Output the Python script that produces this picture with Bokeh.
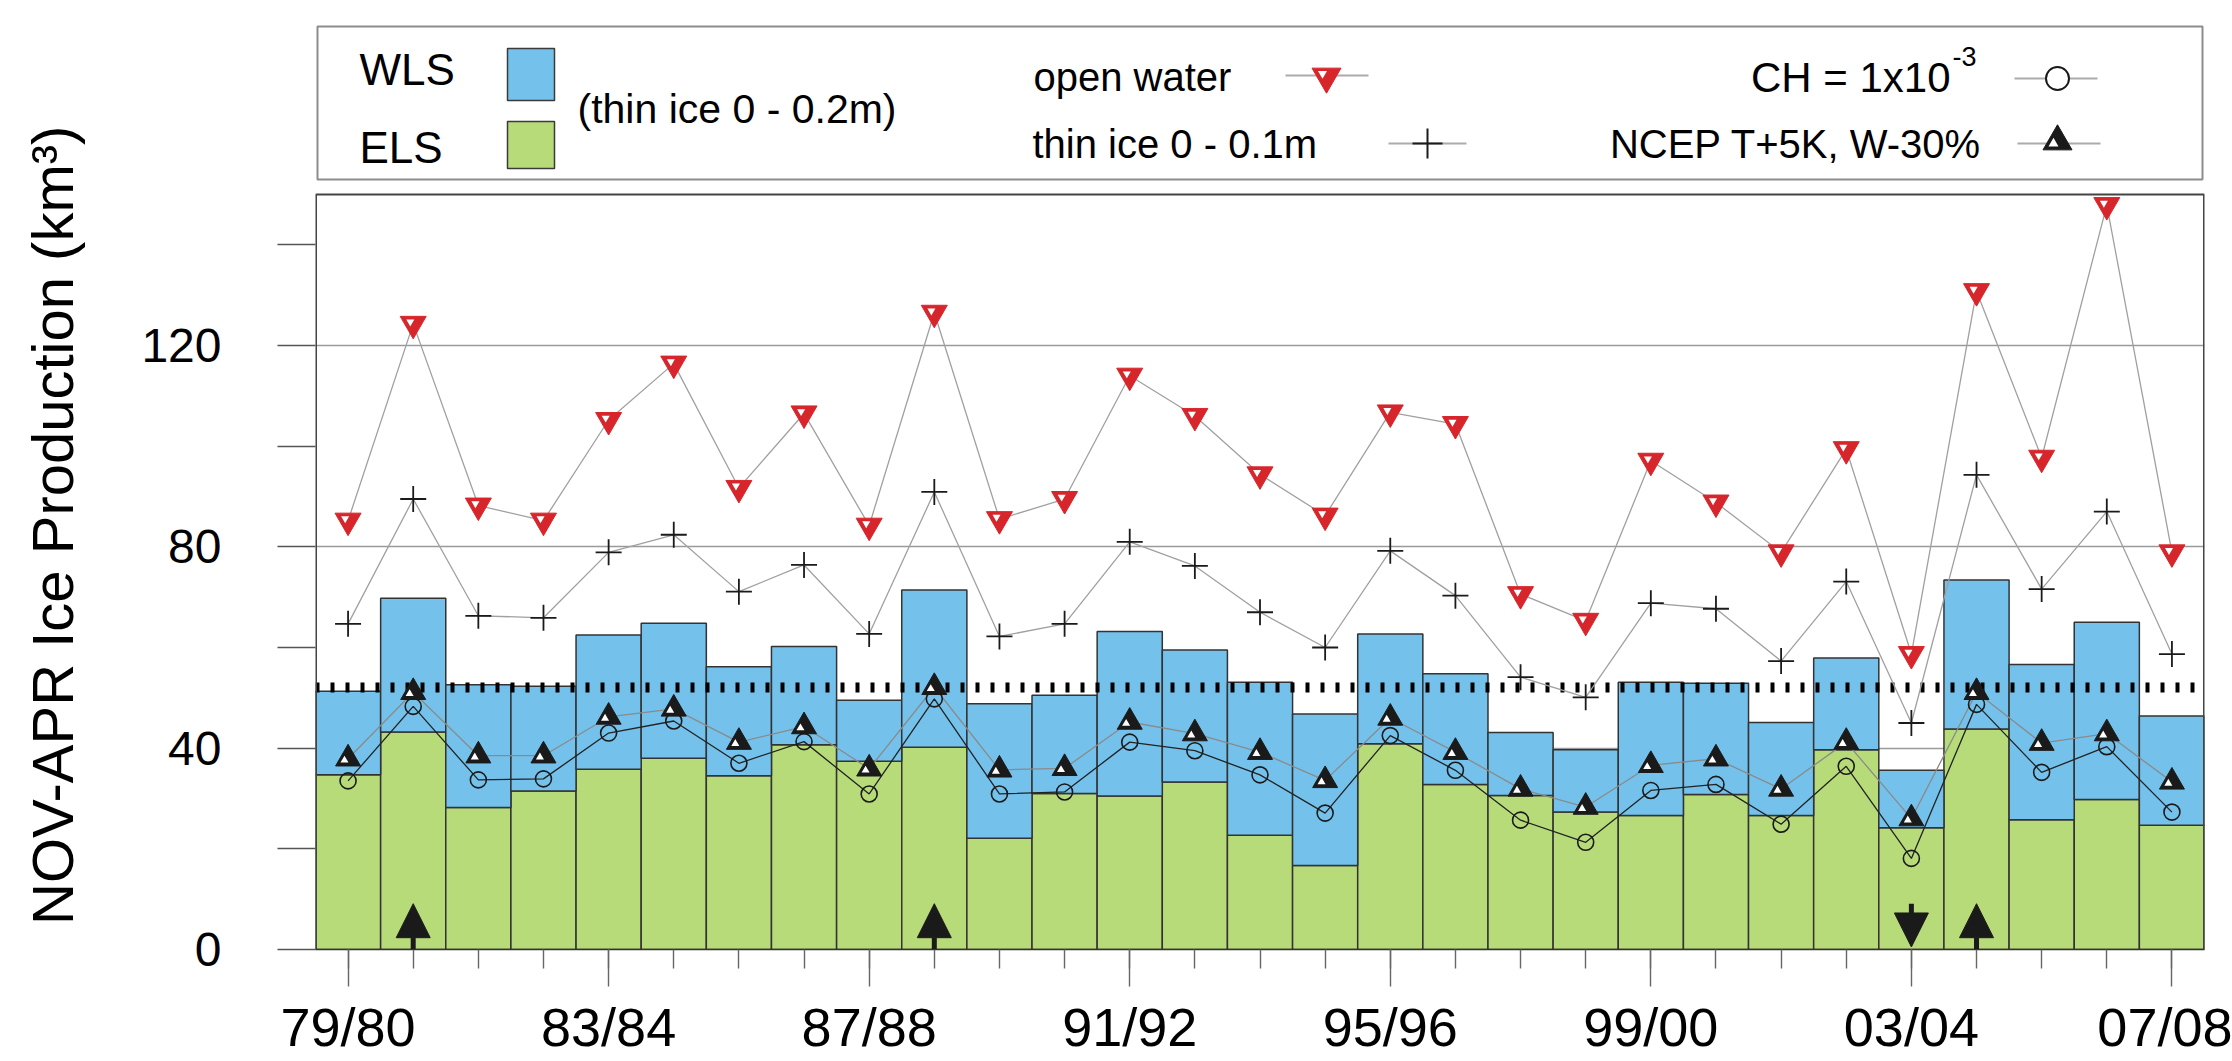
from bokeh.plotting import figure
from bokeh.models import (ColumnDataSource, Range1d, FixedTicker, Arrow, NormalHead)
from bokeh.transform import dodge
from bokeh.core.properties import value
from bokeh.embed import file_html
from bokeh.resources import INLINE

# ---------------- data ----------------
seasons = ["79/80", "80/81", "81/82", "82/83", "83/84", "84/85", "85/86", "86/87",
           "87/88", "88/89", "89/90", "90/91", "91/92", "92/93", "93/94", "94/95",
           "95/96", "96/97", "97/98", "98/99", "99/00", "00/01", "01/02", "02/03",
           "03/04", "04/05", "05/06", "06/07", "07/08"]
# ELS ice production (green, bottom of stack), km^3
els = [34.7, 43.2, 28.2, 31.5, 35.8, 38.0, 34.5, 40.7, 37.4, 40.2, 22.1, 31.0, 30.5,
       33.3, 22.7, 16.7, 40.9, 32.8, 30.6, 27.3, 26.6, 30.8, 26.6, 39.7, 24.2, 43.8,
       25.8, 29.8, 24.7]
# WLS ice production (blue, stacked on ELS), km^3
wls = [16.6, 26.6, 24.4, 20.8, 26.7, 26.8, 21.7, 19.5, 12.1, 31.2, 26.7, 19.5, 32.7,
       26.2, 30.4, 30.1, 21.8, 22.0, 12.5, 12.4, 26.5, 22.1, 18.5, 18.2, 11.4, 29.6,
       30.8, 35.2, 21.7]
open_water = [85.2, 124.3, 88.2, 85.2, 105.2, 116.4, 91.7, 106.5, 84.2, 126.5, 85.5,
              89.5, 114.0, 106.0, 94.4, 86.2, 106.7, 104.4, 70.6, 65.3, 97.1, 88.8,
              78.9, 99.4, 58.7, 130.8, 97.7, 147.9, 78.9]
thin_ice_01 = [64.7, 89.5, 66.3, 65.9, 78.9, 82.4, 71.1, 76.4, 62.7, 90.9, 62.2, 64.7,
               81.0, 76.2, 67.0, 60.0, 79.2, 70.3, 54.1, 50.1, 68.8, 67.7, 57.3, 73.1,
               45.0, 94.3, 71.6, 87.0, 58.7]
ch_1e3 = [33.5, 48.3, 33.7, 33.9, 43.0, 45.4, 37.0, 41.3, 30.9, 49.8, 30.9, 31.3, 41.2,
          39.5, 34.7, 27.1, 42.5, 35.6, 25.7, 21.3, 31.6, 32.8, 24.9, 36.4, 18.1, 48.7,
          35.2, 40.3, 27.3]
ncep_t5k = [37.9, 51.1, 38.5, 38.5, 46.2, 47.8, 41.2, 44.3, 35.9, 52.1, 35.7, 36.0,
            45.2, 42.9, 39.2, 33.6, 46.0, 39.2, 31.9, 28.3, 36.6, 37.9, 31.9, 41.2,
            26.0, 51.1, 41.0, 42.9, 33.3]
dotted_level = [52.1]
arrow_up_seasons = ["80/81", "88/89", "04/05"]
arrow_down_seasons = ["03/04"]
arrow_length = [9.1]
arrow_gap = [0.5]
y_max = 150
y_major_ticks = [0, 40, 80, 120]
y_minor_ticks = [20, 60, 100, 140]
y_grid_ticks = [40, 80, 120]
x_tick_labels = ["79/80", "83/84", "87/88", "91/92", "95/96", "99/00", "03/04", "07/08"]
y_title = "NOV-APR Ice Production (km³)"

# ---------------- styling / layout (page pixels) ----------------
FONT = "Liberation Sans"
BLUE = "#74C2EC"
GREEN = "#B8DB7A"
RED = "#D7262B"
INK = "#1a1a1a"
W, H = 2232, 1061
FRAME_L, FRAME_R = 315, 2204      # plotting box left/right
BOX_TOP, BOX_BOT = 194, 949       # plotting box top/bottom (y = y_max .. 0)
CANVAS_TOP = 20                   # frame extends up to hold the legend panel

PXX = (FRAME_R - FRAME_L) / float(len(seasons))
PXY = (BOX_BOT - BOX_TOP) / float(y_max)


def gx(px):
    """page x pixel -> data x"""
    return -0.5 + (px - FRAME_L) / PXX


def gy(py):
    """page y pixel -> data y"""
    return (BOX_BOT - py) / PXY


idx = list(range(len(seasons)))
src = ColumnDataSource(dict(x=idx, season=seasons, els=els, wls=wls,
                            open_water=open_water, thin_ice=thin_ice_01,
                            ch=ch_1e3, ncep=ncep_t5k))

p = figure(width=W, height=H, x_range=Range1d(-0.5, len(seasons) - 0.5),
           y_range=Range1d(0, gy(CANVAS_TOP)), output_backend="svg",
           toolbar_location=None, min_border_left=FRAME_L, min_border_right=W - FRAME_R,
           min_border_top=CANVAS_TOP, min_border_bottom=H - BOX_BOT)
p.outline_line_color = None
p.background_fill_color = "white"
p.border_fill_color = "white"

# grid
p.xgrid.visible = False
p.ygrid.ticker = FixedTicker(ticks=y_grid_ticks)
p.ygrid.grid_line_color = "#9a9a9a"
p.ygrid.grid_line_width = 1.5

# y axis
p.yaxis.ticker = FixedTicker(ticks=y_major_ticks, minor_ticks=y_minor_ticks)
p.yaxis.major_tick_out = 38
p.yaxis.major_tick_in = 0
p.yaxis.minor_tick_out = 38
p.yaxis.minor_tick_in = 0
p.yaxis.major_tick_line_color = "#555555"
p.yaxis.minor_tick_line_color = "#555555"
p.yaxis.major_tick_line_width = 1.5
p.yaxis.minor_tick_line_width = 1.5
p.yaxis.axis_line_color = None
p.yaxis.major_label_text_font = FONT
p.yaxis.major_label_text_font_size = "48px"
p.yaxis.major_label_text_color = "black"
p.yaxis.major_label_standoff = 56
# axis title; trailing no-break spaces move the centred title down to the plotting box
p.yaxis.axis_label = y_title + "\u00a0" * 5
p.yaxis.axis_label_text_font = FONT
p.yaxis.axis_label_text_font_size = "58px"
p.yaxis.axis_label_text_font_style = "normal"
p.yaxis.axis_label_text_color = "black"
p.yaxis.axis_label_standoff = 53

# x axis
major_x = [seasons.index(s) for s in x_tick_labels]
p.xaxis.ticker = FixedTicker(ticks=major_x, minor_ticks=idx)
p.xaxis.major_label_overrides = {i: lab for i, lab in zip(major_x, x_tick_labels)}
p.xaxis.major_tick_out = 37
p.xaxis.major_tick_in = 0
p.xaxis.minor_tick_out = 19
p.xaxis.minor_tick_in = 0
p.xaxis.major_tick_line_color = "#666666"
p.xaxis.minor_tick_line_color = "#666666"
p.xaxis.major_tick_line_width = 1.4
p.xaxis.minor_tick_line_width = 1.4
p.xaxis.axis_line_color = "#333333"
p.xaxis.axis_line_width = 1.5
p.xaxis.major_label_text_font = FONT
p.xaxis.major_label_text_font_size = "54px"
p.xaxis.major_label_text_color = "black"
p.xaxis.major_label_standoff = 10

# stacked bars
p.vbar_stack(["els", "wls"], x="x", width=1.0, fill_color=[GREEN, BLUE],
             line_color="#333333", line_width=1.5, source=src)

# dotted reference level
p.hspan(y=dotted_level, line_color="black", line_width=10, line_dash="4 11")

# plotting-box border (left, right, top)
xl, xr = -0.5, len(seasons) - 0.5
p.segment(x0=[xl, xr, xl], y0=[0, 0, y_max], x1=[xl, xr, xr], y1=[y_max, y_max, y_max],
          line_color="#444444", line_width=[3, 3, 1.8])

# connecting lines
p.line(x="x", y="open_water", line_color="#a0a0a0", line_width=1.3, source=src)
p.line(x="x", y="thin_ice", line_color="#a0a0a0", line_width=1.3, source=src)
p.line(x="x", y="ncep", line_color="#8a8a8a", line_width=1.3, source=src)
p.line(x="x", y="ch", line_color="#222222", line_width=1.3, source=src)

# markers
p.scatter(x="x", y="open_water", marker="inverted_triangle", size=26, fill_color=RED,
          line_color=RED, line_width=1, source=src)
p.scatter(x=dodge("x", -0.045, range=p.x_range), y=dodge("open_water", 0.4, range=p.y_range),
          marker="inverted_triangle", size=8, fill_color="white", line_color=None, source=src)
p.scatter(x="x", y="thin_ice", marker="cross", size=26, line_color=INK, line_width=1.8,
          source=src)
p.scatter(x="x", y="ch", marker="circle", size=16, fill_color=None, line_color=INK,
          line_width=1.6, source=src)
p.scatter(x="x", y="ncep", marker="triangle", size=25, fill_color=INK, line_color=INK,
          line_width=1, source=src)
p.scatter(x=dodge("x", -0.055, range=p.x_range), y=dodge("ncep", -0.3, range=p.y_range),
          marker="triangle", size=8, fill_color="white", line_color=None, source=src)

# arrows
up_x = [seasons.index(s) for s in arrow_up_seasons]
dn_x = [seasons.index(s) for s in arrow_down_seasons]
up_src = ColumnDataSource(dict(x=up_x, y0=[0] * len(up_x), y1=arrow_length * len(up_x)))
dn_src = ColumnDataSource(dict(x=dn_x, y0=arrow_length * len(dn_x), y1=arrow_gap * len(dn_x)))
for s in (up_src, dn_src):
    p.add_layout(Arrow(end=NormalHead(size=34, fill_color=INK, line_color=INK, line_width=1),
                       x_start="x", y_start="y0", x_end="x", y_end="y1",
                       line_color=INK, line_width=5, source=s))

# ---------------- legend panel above the plotting box ----------------
p.quad(left=[gx(317)], right=[gx(2202)], top=[gy(26)], bottom=[gy(179)], fill_color=None,
       line_color="#8c8c8c", line_width=2)
p.quad(left=[gx(507)] * 2, right=[gx(554)] * 2, top=[gy(48), gy(121)],
       bottom=[gy(100), gy(168)], fill_color=[BLUE, GREEN], line_color="#3a3a3a",
       line_width=1.5)
p.text(x=[gx(359)] * 2, y=[gy(69), gy(147)], text=["WLS", "ELS"], text_font=value(FONT),
       text_font_size="44px", text_baseline="middle", text_align="left", text_color="black")
p.text(x=[gx(577)], y=[gy(108)], text=["(thin ice 0 - 0.2m)"], text_font=value(FONT),
       text_font_size="41px", text_baseline="middle", text_align="left", text_color="black")
p.text(x=[gx(1033), gx(1032)], y=[gy(76), gy(143)], text=["open water", "thin ice 0 - 0.1m"],
       text_font=value(FONT), text_font_size="40px", text_baseline="middle",
       text_align="left", text_color="black")
p.text(x=[gx(1950)], y=[gy(77)], text=["CH = 1x10"], text_font=value(FONT),
       text_font_size="42px", text_baseline="middle", text_align="right", text_color="black")
p.text(x=[gx(1981)], y=[gy(143)], text=["NCEP T+5K, W-30%"], text_font=value(FONT),
       text_font_size="40px", text_baseline="middle", text_align="right", text_color="black")
p.text(x=[gx(1952)], y=[gy(56)], text=["-3"], text_font=value(FONT), text_font_size="27px",
       text_baseline="middle", text_align="left", text_color="black")
p.segment(x0=[gx(1285), gx(1388), gx(2014), gx(2017)],
          y0=[gy(75), gy(143), gy(78), gy(143)],
          x1=[gx(1368), gx(1466), gx(2097), gx(2100)],
          y1=[gy(75), gy(143), gy(78), gy(143)],
          line_color="#ababab", line_width=2)
p.scatter(x=[gx(1326)], y=[gy(76)], marker="inverted_triangle", size=29, fill_color=RED,
          line_color=RED, line_width=1)
p.scatter(x=[gx(1322)], y=[gy(73)], marker="inverted_triangle", size=9, fill_color="white",
          line_color=None)
p.scatter(x=[gx(1427)], y=[gy(143)], marker="cross", size=30, line_color=INK, line_width=2)
p.scatter(x=[gx(2057)], y=[gy(78)], marker="circle", size=23, fill_color="white",
          line_color=INK, line_width=2)
p.scatter(x=[gx(2057)], y=[gy(141)], marker="triangle", size=29, fill_color=INK,
          line_color=INK, line_width=1)
p.scatter(x=[gx(2053)], y=[gy(143)], marker="triangle", size=10, fill_color="white",
          line_color=None)

open("out.html", "w").write(file_html(p, INLINE, "Ice production"))
